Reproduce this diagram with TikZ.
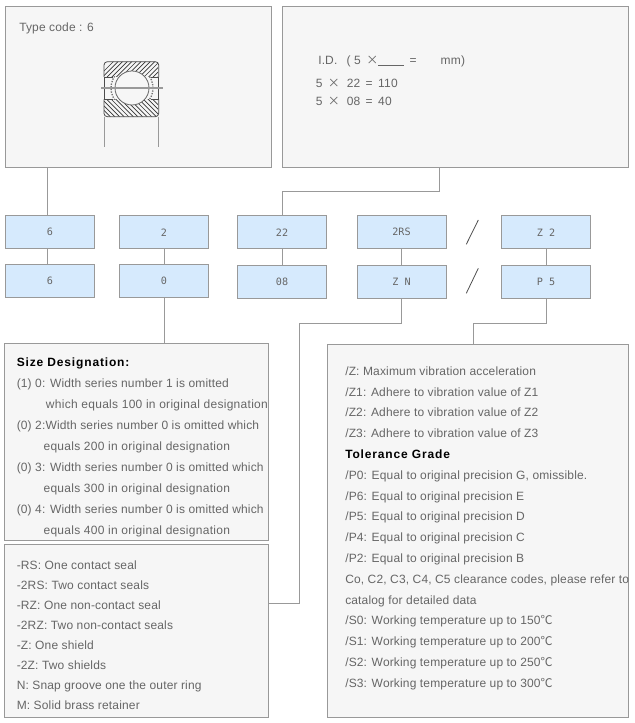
\documentclass[tikz,border=0pt]{standalone}
\usepackage{fontspec}
\setmainfont{Liberation Sans}[LetterSpace=1.3]
\newfontfamily\cjk{Noto Sans CJK SC}
\newfontfamily\codefont{DejaVu Sans Mono}
\usetikzlibrary{calc}
\definecolor{panelgray}{HTML}{F6F6F6}
\definecolor{wiregray}{HTML}{999999}
\definecolor{codeblue}{HTML}{D6EAFD}
\definecolor{textgray}{HTML}{666666}
\tikzset{
  PANEL/.style={rectangle, draw=wiregray, fill=panelgray, line width=0.75pt, inner sep=0pt},
  codebox/.style={rectangle, draw=wiregray, fill=codeblue, line width=0.75pt, inner sep=0pt,
    minimum width=66.75pt, minimum height=25.1pt, text=textgray, font=\codefont\fontsize{7.6}{10}\selectfont},
  wire/.style={draw=wiregray, line width=0.75pt},
  txt/.style={anchor=base west, inner sep=0pt, text=textgray, font=\fontsize{9}{11}\selectfont, yshift=-3.6pt},
  indenttxt/.style={txt, font=\fontsize{9}{11}\selectfont\addfontfeature{LetterSpace=2.4}},
  headtxt/.style={txt, text=black, font=\fontsize{9}{11}\selectfont\bfseries\addfontfeature{LetterSpace=7}},
  hatchline/.style={draw=black!80, line width=0.5pt},
}
\begin{document}
\begin{tikzpicture}[x=0.75pt, y=-0.75pt]
  \useasboundingbox (0,0) rectangle (634,723);
  \node[PANEL, minimum width=199.5pt, minimum height=120.4pt] (typepanel) at (138.5,86.75) {};
  \node[PANEL, minimum width=259.5pt, minimum height=120.4pt] (idpanel) at (455.5,86.75) {};
  \node[PANEL, minimum width=198pt, minimum height=147.4pt] (sizepanel) at (136.5,441.75) {};
  \node[PANEL, minimum width=198pt, minimum height=129.75pt] (sealpanel) at (136.5,630.8) {};
  \node[PANEL, minimum width=225.75pt, minimum height=279.75pt] (tolpanel) at (478,530.8) {};
  \foreach \nm/\x/\y/\lbl in {
      sixa/50/232.25/6\hspace{4.5pt}, twoa/164/232.25/2\hspace{3pt}, borea/282/232.25/22,
      sealcodea/401.5/232.25/2RS\hspace{3pt}, vibcode/546/232.25/Z 2,
      sixb/50/281.25/6\hspace{4.5pt}, zerob/164/281.25/0\hspace{3pt}, boreb/282/282.25/08,
      sealcodeb/401.5/282.25/Z N\hspace{3pt}, tolcode/546/282.25/P 5}{
    \node[codebox] (\nm) at (\x,\y) {\lbl};}
  \draw[wire] ($(typepanel.south west)+(42,0)$) -- ($(sixa.north west)+(42,0)$);
  \draw[wire] ($(sixa.south west)+(42,0)$) -- ($(sixb.north west)+(42,0)$);
  \draw[wire] (twoa) -- (zerob);
  \draw[wire] (borea) -- (boreb);
  \draw[wire] (sealcodea) -- (sealcodeb);
  \draw[wire] (vibcode) -- (tolcode);
  \draw[wire] ($(idpanel.south)+(-16,0)$) |- ($(borea.north)+(0,-24)$) -- (borea.north);
  \draw[wire] (zerob.south) -- (zerob.south |- sizepanel.north);
  \coordinate (sealbend) at (299.5,323.5);
  \draw[wire] (sealcodeb.south) |- (sealbend) |- ($(sealpanel.east)+(0,-27.3)$);
  \draw[wire] (tolcode.south) |- ($(tolpanel.north)+(-4.5,-20.5)$) -- ($(tolpanel.north)+(-4.5,0)$);
  \draw[black!70, line width=0.6pt] (466.3,244.3) -- (478.3,220);
  \draw[black!70, line width=0.6pt] (466.3,293.3) -- (478.3,268.3);
  % bearing
  \begin{scope}
    \clip[rounded corners=2.5pt] (104,61.7) rectangle (158.7,116.7);
    \begin{scope}
      \clip (104,61.7) rectangle (158.7,77);
      \foreach \h in {0,4.6,...,80}{\draw[hatchline] (95+\h,80) -- (95+\h+22,58);}
    \end{scope}
    \begin{scope}
      \clip (104,99.3) rectangle (158.7,116.7);
      \foreach \h in {0,4.6,...,80}{\draw[hatchline] (85+\h,96) -- (85+\h+24,120);}
    \end{scope}
  \end{scope}
  \begin{scope}
    \clip (104,77) rectangle (158.7,99.3);
    \draw[black!55, densely dotted, line width=1pt] (132,88) circle[radius=15.75pt];
  \end{scope}
  \fill[panelgray] (132,88) circle[radius=12.75pt];
  \draw[black!60, line width=0.6pt] (132,88) circle[radius=12.75pt];
  \draw[black!70, line width=0.6pt, rounded corners=2.5pt] (104,77) -- (104,61.7) -- (158.7,61.7) -- (158.7,77);
  \draw[black!70, line width=0.6pt, rounded corners=2.5pt] (104,99.3) -- (104,116.7) -- (158.7,116.7) -- (158.7,99.3);
  \draw[black!70, line width=0.5pt] (104,77) -- (113,77) (151,77) -- (158.7,77) (104,99.3) -- (113,99.3) (151,99.3) -- (158.7,99.3);
  \draw[black!70, line width=0.5pt] (104,77) -- (104,99.3) (158.7,77) -- (158.7,99.3);
  \draw[wiregray, line width=0.9pt] (101,88) -- (162.7,88);
  \draw[wiregray, line width=0.6pt] (104,116.7) -- (104,147) (158.7,116.7) -- (158.7,147);
  % texts
  \node[txt] (typetxt) at (19,27) {Type code : 6};
  \node[txt] (idtxt) at (318,60) {I.D.\hspace{7pt}( 5 \,{\cjk ×}\rule[-0.8pt]{19.5pt}{0.6pt}\hspace{4pt}=\hspace{18pt}mm)};
  \node[txt] (idone) at (315.5,83) {5\,{} {\cjk ×}\hspace{2.5pt} 22 \,=\, 110};
  \node[txt] (idtwo) at (315.5,101) {5\,{} {\cjk ×}\hspace{2.5pt} 08 \,=\, 40};
  \node[headtxt] (sizehead) at (16.5,361.7) {Size Designation:};
  \foreach \y/\str [count=\i] in {
      382.7/{(1) 0: Width series number 1 is omitted},
      424.7/{(0) 2:Width series number 0 is omitted which},
      466.7/{(0) 3: Width series number 0 is omitted which},
      508.7/{(0) 4: Width series number 0 is omitted which}}{
    \node[txt] (sizeline\i) at (16.5,\y) {\str};}
  \foreach \x/\y/\str [count=\i] in {
      45.7/403.7/{which equals 100 in original designation},
      43.3/445.7/{equals 200 in original designation},
      43.3/487.7/{equals 300 in original designation},
      43.3/529.7/{equals 400 in original designation}}{
    \node[indenttxt] (sizemore\i) at (\x,\y) {\str};}
  \foreach \y/\str [count=\i] in {
      564.7/{-RS: One contact seal}, 584.7/{-2RS: Two contact seals},
      604.7/{-RZ: One non-contact seal}, 624.7/{-2RZ: Two non-contact seals},
      644.7/{-Z: One shield}, 664.7/{-2Z: Two shields},
      684.7/{N: Snap groove one the outer ring}, 704.7/{M: Solid brass retainer}}{
    \node[txt] (sealline\i) at (16.5,\y) {\str};}
  \foreach \y/\str [count=\i] in {
      370.7/{/Z: Maximum vibration acceleration},
      391.7/{/Z1: Adhere to vibration value of Z1},
      411.7/{/Z2: Adhere to vibration value of Z2},
      432.7/{/Z3: Adhere to vibration value of Z3},
      474.7/{/P0: Equal to original precision G, omissible.},
      495.7/{/P6: Equal to original precision E},
      515.7/{/P5: Equal to original precision D},
      536.7/{/P4: Equal to original precision C},
      557.7/{/P2: Equal to original precision B},
      578.7/{Co, C2, C3, C4, C5 clearance codes, please refer to},
      599.7/{catalog for detailed data},
      619.7/{/S0: Working temperature up to 150{\cjk ℃}},
      640.7/{/S1: Working temperature up to 200{\cjk ℃}},
      661.7/{/S2: Working temperature up to 250{\cjk ℃}},
      682.7/{/S3: Working temperature up to 300{\cjk ℃}}}{
    \node[txt] (tolline\i) at (345,\y) {\str};}
  \node[headtxt] (tolhead) at (345,453.7) {Tolerance Grade};
\end{tikzpicture}
\end{document}
